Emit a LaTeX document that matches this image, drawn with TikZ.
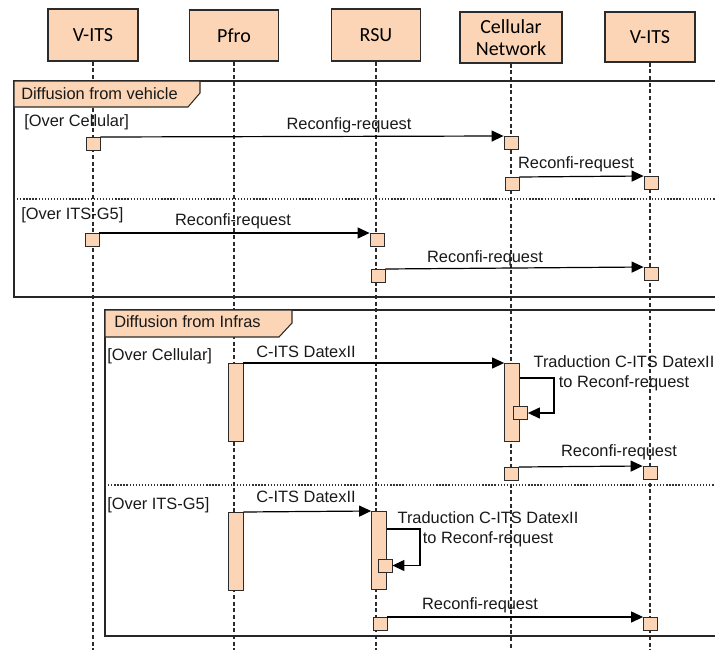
\documentclass[tikz,border=0pt]{standalone}
\usepackage{fontspec}
\setmainfont{Liberation Sans}
\newfontfamily\headfont{Carlito}
\usetikzlibrary{arrows.meta,calc}
\definecolor{peach}{HTML}{FBD5B5}
\definecolor{edge}{HTML}{2B2B2B}
\begin{document}
\begin{tikzpicture}[x=0.75pt,y=-0.75pt,
  hdr/.style={draw=edge, fill=peach, line width=0.8pt, minimum width=67.5pt, minimum height=39pt, inner sep=0pt, font=\headfont\fontsize{15}{17}\selectfont, align=center},
  act/.style={draw=edge, fill=peach, line width=0.6pt, minimum width=10.5pt, minimum height=9.75pt, inner sep=0pt},
  actbar/.style={act, minimum width=11.25pt, minimum height=58.5pt},
  lifeline/.style={draw=edge, line width=0.8pt, dash pattern=on 3pt off 2pt},
  msg/.style={draw=black, line width=0.9pt, -{Triangle[length=9pt,width=8.25pt]}},
  lbl/.style={font=\fontsize{12.3}{15}\selectfont, inner sep=0pt, text=black!90},
  framebox/.style={draw=black!85, line width=1pt},
  sepline/.style={draw=black!80, line width=0.9pt, dash pattern=on 1pt off 1.3pt},
  tabshape/.style={draw=edge, fill=peach, line width=0.8pt}]
\useasboundingbox (0,0) rectangle (715,650);
\begin{scope}
\clip (0,0) rectangle (715,650);
% headers
\node[hdr] (h1) at (93,35) {V-ITS};
\node[hdr, minimum width=66.75pt, minimum height=38.25pt] (h2) at (234,35.5) {Pfro};
\node[hdr, minimum width=66.75pt] (h3) at (376,35) {RSU};
\node[hdr, minimum width=76.5pt, minimum height=38.25pt] (h4) at (511,37.5) {Cellular\\Network};
\node[hdr, minimum height=37.5pt] (h5) at (650,37) {V-ITS};
\coordinate (bot) at (0,652);
% lifelines
\draw[lifeline] (h1.south) -- (h1.south |- bot);
\draw[lifeline] (h2.south) -- (h2.south |- bot);
\draw[lifeline] (h3.south) -- (h3.south |- bot);
\draw[lifeline] (h4.south) -- (h4.south |- bot);
\draw[lifeline] (h5.south) -- (h5.south |- bot);
% frame 1
\draw[framebox] (14,81) rectangle (730,297);
\draw[tabshape] (14,81) -- (200,81) -- (200,93) -- (188,107) -- (14,107) -- cycle;
\node[lbl, anchor=west] (t1) at (21,94) {Diffusion from vehicle};
\draw[sepline] (14,199) -- (730,199);
\node[lbl, anchor=west] (g1) at (24,122) {[Over Cellular]};
\node[lbl, anchor=west] (g2) at (21,215) {[Over ITS-G5]};
% frame 2
\draw[framebox] (105,310) rectangle (730,636);
\draw[tabshape] (105,310) -- (292,310) -- (292,323) -- (279,337) -- (105,337) -- cycle;
\node[lbl, anchor=west] (t2) at (114,322) {Diffusion from Infras};
\draw[sepline] (105,485) -- (730,485);
\node[lbl, anchor=west] (g3) at (107,356) {[Over Cellular]};
\node[lbl, anchor=west] (g4) at (107,505) {[Over ITS-G5]};
% frame 1 messages
\node[act, anchor=north] (a1) at (93,137) {};
\node[act, anchor=north] (a2) at (511,136) {};
\draw[msg] (a1.north east) -- (a2.north west);
\node[lbl] (m1) at (349,125) {Reconfig-request};
\node[act, anchor=north] (a3) at (512,177) {};
\node[act, anchor=north] (a4) at (651,176) {};
\draw[msg] (a3.north east) -- (a4.north west);
\node[lbl] (m2) at (576,164) {Reconfi-request};
\node[act, anchor=north] (a5) at (92,233) {};
\node[act, anchor=north] (a6) at (377,233) {};
\draw[msg] (a5.north east) -- (a6.north west);
\node[lbl] (m3) at (233,221) {Reconfi-request};
\node[act, anchor=north] (a7) at (378,269) {};
\node[act, anchor=north] (a8) at (651,267) {};
\draw[msg] (a7.north east) -- (a8.north west);
\node[lbl] (m4) at (485,258) {Reconfi-request};
% frame 2, over cellular
\node[actbar, anchor=north] (p1) at (235.5,363) {};
\node[actbar, anchor=north] (c1) at (512,363) {};
\draw[msg] (p1.north east) -- (c1.north west);
\node[lbl] (m5) at (306,352) {C-ITS DatexII};
\node[act] (c1s) at (520.5,413) {};
\draw[msg] ($(c1.north east)+(0,15)$) -- ++(34,0) |- (c1s.east);
\node[lbl, align=center, font=\fontsize{12.3}{15}\selectfont] (m6) at (624,373) {Traduction C-ITS DatexII\\to Reconf-request};
\node[act, anchor=north] (a9) at (511.5,467) {};
\node[act, anchor=north] (a10) at (650,466) {};
\draw[msg] (a9.north east) -- (a10.north west);
\node[lbl] (m7) at (619,452) {Reconfi-request};
% frame 2, over ITS-G5
\node[actbar, anchor=north] (p2) at (235.5,512) {};
\node[actbar, anchor=north] (r1) at (379,511) {};
\draw[msg] (p2.north east) -- (r1.north west);
\node[lbl] (m8) at (306,497) {C-ITS DatexII};
\node[act] (r1s) at (385,565.5) {};
\draw[msg] ($(r1.north east)+(0,18)$) -- ++(33,0) |- (r1s.east);
\node[lbl, align=center, font=\fontsize{12.3}{15}\selectfont] (m9) at (488,529.5) {Traduction C-ITS DatexII\\to Reconf-request};
\node[act, anchor=north] (a11) at (380,617) {};
\node[act, anchor=north] (a12) at (650.5,617) {};
\draw[msg] (a11.north east) -- (a12.north west);
\node[lbl] (m10) at (480,605) {Reconfi-request};
\end{scope}
\end{tikzpicture}
\end{document}
